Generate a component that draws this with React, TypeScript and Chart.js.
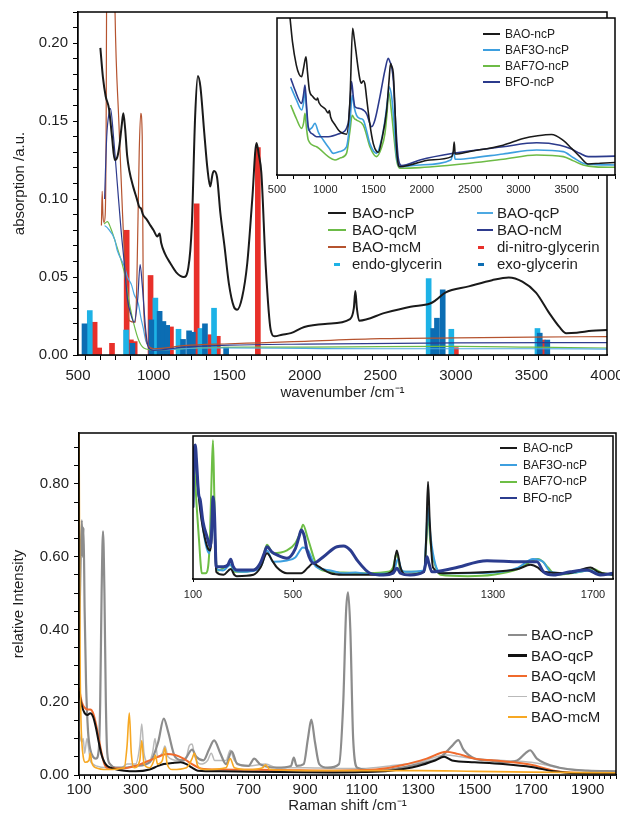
import React, { useEffect, useRef } from "react";
import { Chart, registerables } from "chart.js";

Chart.register(...registerables);

type Pt = [number, number];
const FONT = '"Liberation Sans", Arial, Helvetica, sans-serif';
const TXT = "#1e1e1e";

// ---------------- FTIR (top) ----------------
const irXLabels = [500, 1000, 1500, 2000, 2500, 3000, 3500, 4000];
const irYLabels = [0, 0.05, 0.1, 0.15, 0.2];

const irBAOncP: Pt[] = [[648,0.197],[665,0.178],[683,0.166],[705,0.158],[725,0.14],[743,0.125],[760,0.127],[775,0.135],[790,0.148],[800,0.155],[812,0.145],[825,0.128],[840,0.118],[865,0.108],[890,0.1],[905,0.095],[917,0.094],[930,0.09],[954,0.087],[980,0.083],[1000,0.08],[1025,0.076],[1040,0.078],[1050,0.072],[1075,0.065],[1110,0.059],[1150,0.053],[1200,0.05],[1230,0.056],[1253,0.083],[1275,0.153],[1293,0.179],[1310,0.172],[1335,0.143],[1357,0.119],[1375,0.108],[1390,0.116],[1400,0.118],[1420,0.114],[1442,0.091],[1469,0.07],[1498,0.046],[1531,0.031],[1553,0.029],[1586,0.037],[1620,0.059],[1653,0.1],[1681,0.136],[1697,0.128],[1713,0.117],[1742,0.057],[1775,0.016],[1800,0.012],[1850,0.013],[1908,0.014],[1997,0.018],[2150,0.02],[2300,0.023],[2325,0.03],[2335,0.041],[2345,0.03],[2360,0.022],[2530,0.027],[2700,0.031],[2830,0.033],[2865,0.035],[2930,0.04],[3085,0.044],[3240,0.048],[3350,0.0497],[3440,0.047],[3530,0.04],[3617,0.027],[3685,0.018],[3730,0.014],[3800,0.0143],[3900,0.0155],[4000,0.016]];
const irBAOqcP: Pt[] = [[676,0.083],[695,0.0815],[743,0.074],[760,0.067],[810,0.056],[827,0.05],[854,0.045],[871,0.039],[899,0.033],[916,0.024],[932,0.017],[949,0.009],[965,0.006],[998,0.0035],[1100,0.0035],[1300,0.0045],[1500,0.0045],[2000,0.0042],[2500,0.004],[3000,0.004],[3500,0.004],[4000,0.0038]];
const irBAOqcM: Pt[] = [[672,0.084],[694,0.0855],[716,0.0815],[760,0.0686],[805,0.0536],[838,0.0343],[871,0.0193],[905,0.0086],[938,0.0043],[1005,0.0032],[1300,0.0045],[1600,0.005],[2000,0.005],[2500,0.0054],[3000,0.0055],[3500,0.005],[4000,0.0045]];
const irBAOncM: Pt[] = [[676,0.1],[690,0.14],[705,0.155],[715,0.158],[735,0.14],[760,0.11],[785,0.08],[805,0.06],[827,0.036],[850,0.026],[871,0.021],[895,0.036],[911,0.058],[925,0.045],[949,0.015],[965,0.005],[1000,0.003],[1200,0.005],[1500,0.0063],[2000,0.007],[3000,0.0078],[4000,0.008]];
const irBAOmcM: Pt[] = [[655,0.083],[660,0.105],[665,0.09],[672,0.085],[680,0.09],[686,0.14],[690,0.25],[700,0.3],[735,0.3],[745,0.22],[770,0.15],[795,0.09],[815,0.05],[840,0.022],[880,0.021],[890,0.05],[905,0.13],[915,0.155],[925,0.14],[931,0.05],[945,0.015],[965,0.006],[1000,0.004],[1200,0.006],[1500,0.0072],[1700,0.0078],[2000,0.0088],[2500,0.0105],[3000,0.011],[3500,0.0115],[4000,0.0118]];
const irDiNitro: Pt[] = [[610,0.021],[640,0.0045],[725,0.0075],[822,0.08],[850,0.0097],[875,0.0086],[980,0.051],[1115,0.018],[1285,0.097],[1375,0.013],[1425,0.012],[1690,0.133],[3000,0.0047],[3575,0.0096]];
const irEndo: Pt[] = [[578,0.0285],[818,0.016],[1012,0.0365],[1165,0.0165],[1310,0.017],[1400,0.03],[2820,0.049],[2970,0.0165],[3540,0.017]];
const irExo: Pt[] = [[543,0.02],[860,0.0075],[985,0.0225],[1040,0.028],[1065,0.0215],[1090,0.019],[1195,0.01],[1235,0.0155],[1260,0.0146],[1340,0.02],[1480,0.005],[2850,0.017],[2875,0.0236],[2913,0.0418],[3555,0.014],[3605,0.0096]];

// FTIR inset (relative units)
const irInsetXLabels = [500, 1000, 1500, 2000, 2500, 3000, 3500];
const irInsetBAOncP: Pt[] = [[635,1.0],[660,0.85],[700,0.7],[730,0.64],[755,0.626],[775,0.68],[800,0.753],[815,0.66],[835,0.541],[870,0.5],[910,0.478],[920,0.49],[935,0.46],[1000,0.42],[1031,0.395],[1042,0.41],[1055,0.37],[1100,0.32],[1152,0.276],[1220,0.26],[1255,0.47],[1283,0.934],[1300,0.87],[1317,0.79],[1340,0.68],[1358,0.61],[1375,0.585],[1393,0.6],[1410,0.58],[1428,0.49],[1460,0.33],[1497,0.2],[1531,0.15],[1550,0.145],[1583,0.22],[1635,0.41],[1660,0.6],[1676,0.71],[1690,0.69],[1704,0.65],[1720,0.45],[1738,0.17],[1773,0.053],[1877,0.064],[2084,0.096],[2308,0.117],[2325,0.15],[2335,0.21],[2345,0.134],[2497,0.15],[2842,0.19],[3050,0.233],[3200,0.25],[3343,0.258],[3464,0.22],[3550,0.17],[3636,0.117],[3722,0.07],[3850,0.075],[4000,0.08]];
const irInsetBFOncP: Pt[] = [[642,0.616],[686,0.541],[755,0.456],[772,0.5],[790,0.573],[805,0.45],[824,0.307],[870,0.26],[910,0.244],[1031,0.244],[1152,0.265],[1238,0.33],[1260,0.5],[1272,0.595],[1290,0.5],[1307,0.435],[1358,0.424],[1393,0.414],[1428,0.39],[1480,0.307],[1514,0.35],[1566,0.499],[1618,0.668],[1652,0.743],[1670,0.72],[1687,0.69],[1705,0.6],[1721,0.414],[1756,0.107],[1790,0.06],[1980,0.096],[2325,0.138],[2842,0.18],[3188,0.205],[3430,0.19],[3550,0.165],[3636,0.138],[3722,0.117],[4000,0.12]];
const irInsetBAF3O: Pt[] = [[642,0.562],[700,0.48],[755,0.414],[775,0.46],[790,0.541],[805,0.42],[824,0.286],[860,0.3],[893,0.329],[930,0.27],[979,0.223],[1040,0.17],[1083,0.138],[1150,0.15],[1220,0.18],[1255,0.33],[1279,0.507],[1300,0.43],[1324,0.38],[1360,0.36],[1393,0.35],[1420,0.3],[1462,0.2],[1531,0.138],[1580,0.22],[1618,0.35],[1645,0.48],[1662,0.562],[1687,0.499],[1710,0.35],[1738,0.117],[1773,0.053],[1980,0.064],[2300,0.096],[2330,0.15],[2345,0.1],[2497,0.107],[2842,0.134],[3188,0.159],[3464,0.149],[3570,0.11],[3670,0.075],[3800,0.066],[4000,0.064]];
const irInsetBAF7O: Pt[] = [[642,0.446],[700,0.36],[755,0.297],[775,0.33],[790,0.393],[805,0.3],[824,0.223],[910,0.18],[1031,0.117],[1100,0.096],[1160,0.11],[1220,0.138],[1255,0.28],[1279,0.38],[1300,0.36],[1324,0.35],[1393,0.318],[1420,0.27],[1462,0.18],[1531,0.117],[1580,0.17],[1618,0.265],[1640,0.4],[1656,0.53],[1687,0.393],[1710,0.25],[1738,0.096],[1773,0.043],[1980,0.047],[2497,0.075],[2842,0.1],[3188,0.127],[3464,0.117],[3570,0.09],[3670,0.064],[3800,0.052],[4000,0.049]];

// ---------------- Raman (bottom) ----------------
const raXLabels = [100, 300, 500, 700, 900, 1100, 1300, 1500, 1700, 1900];
const raYLabels = [0, 0.2, 0.4, 0.6, 0.8];

const raBAOncP: Pt[] = [[100,0.35],[106,0.6],[110,0.7],[113,0.6],[116,0.68],[120,0.45],[125,0.25],[132,0.12],[140,0.07],[150,0.05],[160,0.045],[170,0.07],[175,0.2],[180,0.5],[185,0.67],[190,0.5],[195,0.2],[200,0.06],[210,0.03],[230,0.02],[260,0.02],[300,0.025],[350,0.035],[380,0.09],[400,0.155],[415,0.12],[440,0.05],[470,0.04],[500,0.07],[515,0.05],[540,0.04],[560,0.07],[578,0.095],[600,0.06],[620,0.03],[640,0.065],[660,0.03],[700,0.025],[720,0.045],[740,0.03],[800,0.02],[850,0.025],[860,0.048],[870,0.025],[895,0.03],[910,0.1],[922,0.152],[935,0.09],[950,0.03],[980,0.02],[1020,0.03],[1035,0.2],[1045,0.45],[1052,0.502],[1060,0.4],[1070,0.1],[1085,0.02],[1150,0.012],[1200,0.015],[1300,0.03],[1380,0.05],[1420,0.08],[1442,0.096],[1460,0.07],[1500,0.045],[1550,0.04],[1600,0.035],[1650,0.04],[1680,0.06],[1696,0.068],[1720,0.045],[1800,0.02],[1900,0.012],[2000,0.01]];
const raBAOqcP: Pt[] = [[100,0.23],[110,0.19],[120,0.17],[130,0.165],[140,0.17],[150,0.16],[160,0.13],[170,0.09],[180,0.055],[190,0.035],[200,0.025],[220,0.018],[260,0.012],[300,0.01],[350,0.015],[380,0.025],[400,0.03],[430,0.033],[460,0.035],[480,0.03],[500,0.02],[520,0.012],[600,0.01],[800,0.008],[1000,0.007],[1100,0.008],[1200,0.012],[1300,0.025],[1360,0.04],[1392,0.05],[1420,0.04],[1500,0.035],[1600,0.03],[1700,0.022],[1780,0.01],[1850,0.005],[2000,0.004]];
const raBAOqcM: Pt[] = [[100,0.24],[110,0.2],[120,0.185],[130,0.18],[140,0.18],[150,0.17],[160,0.14],[170,0.1],[180,0.06],[190,0.03],[200,0.02],[250,0.018],[300,0.025],[350,0.04],[380,0.05],[410,0.058],[440,0.055],[470,0.045],[500,0.03],[530,0.018],[600,0.015],[800,0.014],[1000,0.012],[1150,0.015],[1250,0.028],[1330,0.045],[1400,0.064],[1440,0.058],[1500,0.045],[1600,0.038],[1700,0.028],[1780,0.012],[1850,0.006],[2000,0.005]];
const raBAOncM: Pt[] = [[100,0.12],[105,0.1],[110,0.09],[115,0.1],[120,0.06],[128,0.1],[133,0.08],[140,0.04],[150,0.03],[160,0.025],[200,0.02],[250,0.02],[270,0.03],[300,0.03],[315,0.08],[322,0.14],[330,0.06],[345,0.035],[360,0.06],[369,0.1],[378,0.05],[395,0.06],[404,0.08],[415,0.05],[450,0.04],[480,0.05],[490,0.08],[500,0.085],[510,0.05],[530,0.03],[555,0.04],[568,0.06],[580,0.04],[620,0.04],[635,0.068],[650,0.04],[700,0.025],[760,0.03],[800,0.02],[900,0.02],[1000,0.018],[1100,0.018],[1200,0.025],[1300,0.035],[1400,0.055],[1450,0.05],[1500,0.045],[1600,0.04],[1700,0.035],[1800,0.02],[1900,0.012],[2000,0.01]];
const raBAOmcM: Pt[] = [[100,1.0],[102,0.6],[104,0.3],[107,0.15],[110,0.09],[115,0.05],[122,0.035],[135,0.04],[140,0.06],[145,0.035],[160,0.02],[200,0.015],[260,0.02],[270,0.08],[278,0.17],[285,0.06],[295,0.02],[315,0.04],[322,0.095],[330,0.03],[350,0.02],[365,0.04],[370,0.055],[378,0.03],[395,0.04],[404,0.075],[412,0.03],[430,0.015],[480,0.02],[500,0.045],[508,0.06],[520,0.025],[545,0.015],[620,0.02],[635,0.045],[650,0.02],[700,0.015],[750,0.02],[760,0.028],[775,0.015],[900,0.012],[1100,0.012],[1300,0.012],[1500,0.01],[1700,0.008],[2000,0.006]];

// Raman inset (relative units)
const raInsetXLabels = [100, 500, 900, 1300, 1700];
const raInsetBFOncP: Pt[] = [[100,0.5],[104,0.85],[109,0.937],[115,0.8],[122,0.6],[129,0.552],[140,0.4],[156,0.296],[169,0.226],[175,0.35],[180,0.576],[186,0.45],[193,0.086],[222,0.086],[240,0.1],[251,0.138],[260,0.09],[275,0.063],[342,0.063],[369,0.11],[385,0.18],[396,0.226],[415,0.19],[436,0.168],[476,0.145],[509,0.21],[525,0.3],[533,0.343],[545,0.3],[556,0.2],[582,0.11],[622,0.156],[676,0.226],[702,0.23],[730,0.2],[756,0.133],[809,0.04],[862,0.028],[900,0.04],[916,0.075],[930,0.04],[969,0.028],[1022,0.05],[1030,0.1],[1036,0.156],[1042,0.12],[1056,0.05],[1142,0.075],[1276,0.128],[1409,0.12],[1476,0.12],[1502,0.05],[1542,0.028],[1609,0.05],[1676,0.063],[1729,0.028],[1780,0.04]];
const raInsetBAOncP: Pt[] = [[100,0.5],[104,0.85],[109,0.93],[115,0.75],[129,0.48],[156,0.23],[169,0.2],[175,0.3],[180,0.52],[186,0.4],[193,0.05],[222,0.03],[251,0.07],[265,0.03],[275,0.02],[342,0.03],[370,0.08],[396,0.18],[420,0.12],[436,0.08],[476,0.04],[533,0.04],[560,0.08],[580,0.11],[600,0.09],[650,0.04],[700,0.03],[850,0.03],[900,0.06],[915,0.2],[930,0.08],[950,0.03],[1025,0.05],[1033,0.3],[1040,0.68],[1047,0.4],[1060,0.08],[1100,0.04],[1300,0.05],[1400,0.07],[1450,0.1],[1480,0.08],[1500,0.05],[1600,0.04],[1690,0.08],[1720,0.05],[1780,0.03]];
const raInsetBAF3O: Pt[] = [[100,0.5],[104,0.85],[109,0.9],[115,0.75],[129,0.5],[150,0.25],[165,0.18],[172,0.3],[180,0.5],[186,0.35],[193,0.07],[220,0.06],[250,0.1],[265,0.06],[300,0.05],[350,0.06],[375,0.1],[396,0.2],[420,0.12],[476,0.13],[509,0.15],[540,0.22],[560,0.2],[590,0.09],[650,0.06],[700,0.04],[750,0.045],[800,0.035],[900,0.04],[920,0.14],[935,0.06],[950,0.05],[1025,0.06],[1033,0.3],[1040,0.5],[1050,0.3],[1070,0.1],[1100,0.04],[1300,0.045],[1400,0.08],[1460,0.14],[1500,0.12],[1530,0.05],[1600,0.04],[1690,0.06],[1720,0.04],[1780,0.03]];
const raInsetBAF7O: Pt[] = [[100,0.9],[105,0.8],[115,0.5],[125,0.25],[130,0.12],[135,0.04],[150,0.04],[160,0.08],[168,0.3],[175,0.75],[180,0.97],[185,0.6],[190,0.2],[200,0.06],[250,0.1],[265,0.05],[300,0.05],[350,0.07],[375,0.12],[396,0.24],[420,0.18],[476,0.2],[509,0.25],[530,0.33],[540,0.38],[560,0.28],[600,0.08],[650,0.05],[700,0.045],[800,0.04],[880,0.05],[900,0.08],[915,0.18],[930,0.06],[950,0.05],[1025,0.05],[1033,0.25],[1040,0.45],[1050,0.25],[1060,0.15],[1090,0.03],[1200,0.02],[1300,0.03],[1400,0.07],[1480,0.14],[1500,0.12],[1520,0.08],[1550,0.03],[1650,0.05],[1700,0.07],[1740,0.04],[1780,0.03]];

// ---------------- helpers ----------------
const toXY = (pts: Pt[]) => pts.map(([x, y]) => ({ x, y }));
const inList = (v: number, list: number[]) => list.some((t) => Math.abs(t - v) < 1e-6);

const framePlugin = {
  id: "frame",
  beforeDatasetsDraw(chart: any) {
    const { left, top, width, height } = chart.chartArea;
    const ctx = chart.ctx;
    ctx.save();
    ctx.fillStyle = "#fff";
    ctx.fillRect(left, top, width, height);
    ctx.restore();
  },
  afterDraw(chart: any) {
    const { left, top, right, bottom } = chart.chartArea;
    const ctx = chart.ctx;
    ctx.save();
    ctx.strokeStyle = "#000";
    ctx.lineWidth = 1.5;
    ctx.strokeRect(left, top, right - left, bottom - top);
    ctx.restore();
  },
};

function lineDs(label: string, pts: Pt[], color: string, width: number, order: number) {
  return {
    type: "line",
    label,
    data: toXY(pts),
    borderColor: color,
    backgroundColor: color,
    borderWidth: width,
    pointRadius: 0,
    cubicInterpolationMode: "monotone",
    fill: false,
    order,
  };
}
function barDs(label: string, pts: Pt[], color: string, order: number) {
  return {
    type: "bar",
    label,
    data: toXY(pts),
    backgroundColor: color,
    borderWidth: 0,
    barThickness: 5,
    grouped: false,
    order,
  };
}
const grid = (len: number) => ({ drawOnChartArea: false, drawTicks: true, tickLength: len, color: "#000", tickColor: "#000", lineWidth: 1 });
const border = { display: true, color: "#000", width: 1.5 };
const font = (size: number) => ({ family: FONT, size });

function baseOptions(padding: any, scales: any) {
  return {
    type: "line",
    options: {
      responsive: false,
      animation: false,
      events: [],
      layout: { padding },
      plugins: { legend: { display: false }, tooltip: { enabled: false } },
      scales,
    },
  };
}

// ---------------- chart configs ----------------
function irMainConfig() {
  const cfg: any = baseOptions({ left: 0, top: 12, right: 13, bottom: 0 }, {
    x: {
      type: "linear", min: 500, max: 4000, offset: false,
      ticks: { stepSize: 100, autoSkip: false, maxRotation: 0, minRotation: 0, padding: 7, color: TXT, font: font(15),
        callback: (v: number) => (inList(v, irXLabels) ? String(v) : "") },
      grid: grid(5), border,
      title: { display: true, text: "wavenumber /cm\u207B\u00B9", color: TXT, font: font(15), padding: { top: 0, bottom: 0 } },
      afterFit: (s: any) => { s.height = 47; s.paddingLeft = 0; s.paddingRight = 0; },
    },
    y: {
      type: "linear", min: 0, max: 0.22,
      ticks: { stepSize: 0.01, autoSkip: false, padding: 5, color: TXT, font: font(15),
        callback: (v: number) => (inList(v, irYLabels) ? v.toFixed(2) : "") },
      grid: grid(5), border,
      title: { display: true, text: "absorption /a.u.", color: TXT, font: font(15), padding: { top: 11, bottom: 0 } },
      afterFit: (s: any) => { s.width = 78; s.paddingTop = 0; s.paddingBottom = 0; },
    },
  });
  cfg.data = {
    datasets: [
      lineDs("BAO-ncP", irBAOncP, "#1a1a1a", 2, 0),
      lineDs("BAO-qcP", irBAOqcP, "#4ea9e2", 1.2, 2),
      lineDs("BAO-qcM", irBAOqcM, "#6cbb47", 1.2, 3),
      lineDs("BAO-ncM", irBAOncM, "#2e3b8e", 1.2, 1),
      lineDs("BAO-mcM", irBAOmcM, "#b5532f", 1.2, 1),
      barDs("di-nitro-glycerin", irDiNitro, "#e8302a", 7),
      barDs("endo-glycerin", irEndo, "#1db2e6", 6),
      barDs("exo-glycerin", irExo, "#0c6db3", 5),
    ],
  };
  cfg.plugins = [framePlugin];
  return cfg;
}

function irInsetConfig() {
  const insetTicks: number[] = [];
  for (let k = 0; k <= 21; k++) insetTicks.push(500 + (k * 500) / 3);
  const cfg: any = baseOptions({ left: 15, top: 10, right: 5, bottom: 0 }, {
    x: {
      type: "linear", min: 500, max: 4000, offset: false,
      afterBuildTicks: (s: any) => { s.ticks = insetTicks.map((value) => ({ value })); },
      ticks: { autoSkip: false, maxRotation: 0, minRotation: 0, padding: 4, color: TXT, font: font(11),
        callback: (v: number) => (inList(v, irInsetXLabels) ? String(Math.round(v)) : "") },
      grid: grid(4), border,
      afterFit: (s: any) => { s.height = 28; s.paddingLeft = 0; s.paddingRight = 0; },
    },
    y: { type: "linear", min: 0, max: 1, display: false },
  });
  cfg.data = {
    datasets: [
      lineDs("BAO-ncP", irInsetBAOncP, "#1a1a1a", 1.6, 0),
      lineDs("BFO-ncP", irInsetBFOncP, "#2b3a8c", 1.6, 1),
      lineDs("BAF3O-ncP", irInsetBAF3O, "#3d9fdf", 1.6, 2),
      lineDs("BAF7O-ncP", irInsetBAF7O, "#6dbb46", 1.6, 3),
    ],
  };
  cfg.plugins = [framePlugin];
  return cfg;
}

function raMainConfig() {
  const cfg: any = baseOptions({ left: 0, top: 31, right: 4, bottom: 0 }, {
    x: {
      type: "linear", min: 100, max: 2000, offset: false,
      ticks: { stepSize: 20, autoSkip: false, maxRotation: 0, minRotation: 0, padding: 2, color: TXT, font: font(15),
        callback: (v: number) => (inList(v, raXLabels) ? String(v) : "") },
      grid: grid(4), border,
      title: { display: true, text: "Raman shift /cm\u207B\u00B9", color: TXT, font: font(15), padding: { top: 0, bottom: 4 } },
      afterFit: (s: any) => { s.height = 44; s.paddingLeft = 0; s.paddingRight = 0; },
    },
    y: {
      type: "linear", min: 0, max: 0.94,
      ticks: { stepSize: 0.05, includeBounds: false, autoSkip: false, padding: 5, color: TXT, font: font(15),
        callback: (v: number) => (inList(v, raYLabels) ? v.toFixed(2) : "") },
      grid: grid(5), border,
      title: { display: true, text: "relative Intensity", color: TXT, font: font(15), padding: { top: 10, bottom: 0 } },
      afterFit: (s: any) => { s.width = 79; s.paddingTop = 0; s.paddingBottom = 0; },
    },
  });
  cfg.data = {
    datasets: [
      lineDs("BAO-ncP", raBAOncP, "#8c8c8c", 2.2, 3),
      lineDs("BAO-qcP", raBAOqcP, "#111111", 2, 1),
      lineDs("BAO-qcM", raBAOqcM, "#f06a2c", 2, 2),
      lineDs("BAO-ncM", raBAOncM, "#b9b9b9", 1.5, 4),
      lineDs("BAO-mcM", raBAOmcM, "#f7a823", 1.6, 0),
    ],
  };
  cfg.plugins = [framePlugin];
  return cfg;
}

function raInsetConfig() {
  const cfg: any = baseOptions({ left: 10, top: 10, right: 7, bottom: 0 }, {
    x: {
      type: "linear", min: 100, max: 1780, offset: false,
      afterBuildTicks: (s: any) => { s.ticks = raInsetXLabels.map((value) => ({ value })); },
      ticks: { autoSkip: false, maxRotation: 0, minRotation: 0, padding: 6, color: TXT, font: font(11),
        callback: (v: number) => (inList(v, raInsetXLabels) ? String(v) : "") },
      grid: grid(3), border,
      afterFit: (s: any) => { s.height = 22; s.paddingLeft = 0; s.paddingRight = 0; },
    },
    y: { type: "linear", min: 0, max: 1, display: false },
  });
  cfg.data = {
    datasets: [
      lineDs("BAO-ncP", raInsetBAOncP, "#1a1a1a", 2, 1),
      lineDs("BAF3O-ncP", raInsetBAF3O, "#3d9fdf", 2, 2),
      lineDs("BAF7O-ncP", raInsetBAF7O, "#6dbe45", 2, 3),
      lineDs("BFO-ncP", raInsetBFOncP, "#2b3c8e", 3, 0),
    ],
  };
  cfg.plugins = [framePlugin];
  return cfg;
}

// ---------------- components ----------------
function ChartBox({ x, y, w, h, build }: { x: number; y: number; w: number; h: number; build: () => any }) {
  const ref = useRef<HTMLCanvasElement>(null);
  useEffect(() => {
    const chart = new Chart(ref.current as HTMLCanvasElement, build());
    return () => chart.destroy();
  }, []);
  return <canvas ref={ref} width={w} height={h} style={{ position: "absolute", left: x, top: y, width: w, height: h }} />;
}

type LegendEntry = { text: string; color: string; kind: "line" | "dash"; thick: number; lx: number; len: number; tx: number; cy: number; size: number };

function Legend({ items }: { items: LegendEntry[] }) {
  return (
    <>
      {items.map((it, i) => (
        <React.Fragment key={i}>
          <div
            style={{
              position: "absolute",
              left: it.lx,
              top: it.cy - it.thick / 2,
              width: it.len,
              height: it.thick,
              background: it.color,
            }}
          />
          <div
            style={{
              position: "absolute",
              left: it.tx,
              top: it.cy - it.size * 0.6,
              lineHeight: `${it.size * 1.2}px`,
              fontSize: it.size,
              fontFamily: FONT,
              color: TXT,
              whiteSpace: "nowrap",
            }}
          >
            {it.text}
          </div>
        </React.Fragment>
      ))}
    </>
  );
}

const irMainLegend: LegendEntry[] = [
  { text: "BAO-ncP", color: "#1a1a1a", kind: "line", thick: 2.5, lx: 328, len: 18, tx: 352, cy: 213, size: 15 },
  { text: "BAO-qcM", color: "#6cbb47", kind: "line", thick: 1.5, lx: 328, len: 18, tx: 352, cy: 230, size: 15 },
  { text: "BAO-mcM", color: "#b5532f", kind: "line", thick: 1.5, lx: 328, len: 18, tx: 352, cy: 247, size: 15 },
  { text: "endo-glycerin", color: "#1db2e6", kind: "dash", thick: 3, lx: 334, len: 6, tx: 352, cy: 264, size: 15 },
  { text: "BAO-qcP", color: "#4ea9e2", kind: "line", thick: 1.5, lx: 477, len: 16, tx: 497, cy: 213, size: 15 },
  { text: "BAO-ncM", color: "#2e3b8e", kind: "line", thick: 1.5, lx: 477, len: 16, tx: 497, cy: 230, size: 15 },
  { text: "di-nitro-glycerin", color: "#e8302a", kind: "dash", thick: 3, lx: 478, len: 6, tx: 497, cy: 247, size: 15 },
  { text: "exo-glycerin", color: "#0c6db3", kind: "dash", thick: 3, lx: 478, len: 6, tx: 497, cy: 264, size: 15 },
];
const irInsetLegend: LegendEntry[] = [
  { text: "BAO-ncP", color: "#1a1a1a", kind: "line", thick: 2, lx: 483, len: 17, tx: 505, cy: 34, size: 12 },
  { text: "BAF3O-ncP", color: "#3d9fdf", kind: "line", thick: 2, lx: 483, len: 17, tx: 505, cy: 50, size: 12 },
  { text: "BAF7O-ncP", color: "#6dbb46", kind: "line", thick: 2, lx: 483, len: 17, tx: 505, cy: 66, size: 12 },
  { text: "BFO-ncP", color: "#2b3a8c", kind: "line", thick: 2, lx: 483, len: 17, tx: 505, cy: 82, size: 12 },
];
const raMainLegend: LegendEntry[] = [
  { text: "BAO-ncP", color: "#8c8c8c", kind: "line", thick: 2.5, lx: 508, len: 19, tx: 531, cy: 635, size: 15 },
  { text: "BAO-qcP", color: "#111111", kind: "line", thick: 2.5, lx: 508, len: 19, tx: 531, cy: 655.5, size: 15 },
  { text: "BAO-qcM", color: "#f06a2c", kind: "line", thick: 1.5, lx: 508, len: 19, tx: 531, cy: 676, size: 15 },
  { text: "BAO-ncM", color: "#b9b9b9", kind: "line", thick: 1.5, lx: 508, len: 19, tx: 531, cy: 696.5, size: 15 },
  { text: "BAO-mcM", color: "#f7a823", kind: "line", thick: 2, lx: 508, len: 19, tx: 531, cy: 717, size: 15 },
];
const raInsetLegend: LegendEntry[] = [
  { text: "BAO-ncP", color: "#1a1a1a", kind: "line", thick: 2, lx: 500, len: 17, tx: 523, cy: 448, size: 12 },
  { text: "BAF3O-ncP", color: "#3d9fdf", kind: "line", thick: 2, lx: 500, len: 17, tx: 523, cy: 465, size: 12 },
  { text: "BAF7O-ncP", color: "#6dbe45", kind: "line", thick: 2, lx: 500, len: 17, tx: 523, cy: 481.5, size: 12 },
  { text: "BFO-ncP", color: "#2b3c8e", kind: "line", thick: 2, lx: 500, len: 17, tx: 523, cy: 498, size: 12 },
];

export default function App() {
  return (
    <div style={{ position: "absolute", left: 0, top: 0, width: 620, height: 819, overflow: "hidden", background: "#fff" }}>
      <ChartBox x={0} y={0} w={620} h={402} build={irMainConfig} />
      <Legend items={irMainLegend} />
      <ChartBox x={262} y={8} w={358} h={195} build={irInsetConfig} />
      <Legend items={irInsetLegend} />
      <ChartBox x={0} y={402} w={620} h={417} build={raMainConfig} />
      <Legend items={raMainLegend} />
      <ChartBox x={183} y={426} w={437} h={175} build={raInsetConfig} />
      <Legend items={raInsetLegend} />
    </div>
  );
}
